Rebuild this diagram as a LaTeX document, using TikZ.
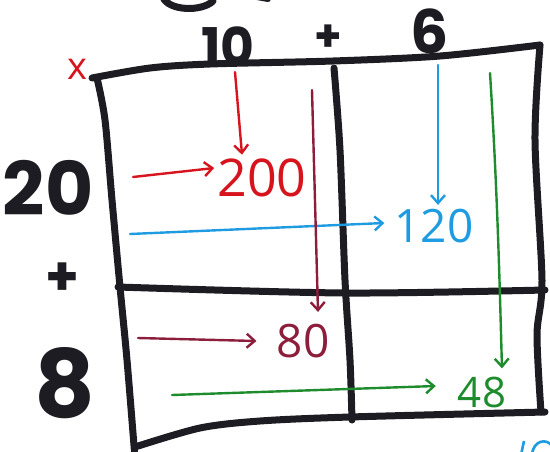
\documentclass[tikz,border=0pt]{standalone}
\usepackage{fontspec}
\setmainfont{Open Sans}
\newfontfamily\blkfont{Poppins}
\usetikzlibrary{arrows.meta}
\definecolor{mred}{HTML}{D7141E}
\definecolor{mblue}{HTML}{1E9BE1}
\definecolor{mdred}{HTML}{8C1E3C}
\definecolor{mgreen}{HTML}{1E8C2D}
\definecolor{ink}{HTML}{1C1C22}
\tikzset{
  gridline/.style={ink, line width=7pt, line cap=round, line join=round},
  colarrow/.style={line width=2.4pt, line cap=round, -{Straight Barb[length=8pt,width=14pt,line width=2.4pt]}},
  prod/.style={inner sep=0pt, font=\fontsize{52}{52}\selectfont},
  factor/.style={ink, inner sep=0pt, font=\blkfont\bfseries\fontsize{52}{52}\selectfont},
}
\begin{document}
\begin{tikzpicture}[x=1pt,y=-1pt]
\useasboundingbox (0,0) rectangle (550,451);
\clip (0,0) rectangle (550,451);
% partial text at top and bottom (cut off)
\draw[ink, line width=7pt, line cap=round] (163,-3) .. controls (168,11) and (202,12) .. (213,1);
\draw[ink, line width=6pt, line cap=round] (257,-3) -- (268,-1);
\draw[mblue, line width=2.6pt] (521,455) -- (524,441);
\draw[mblue, line width=2.6pt] (532,455) .. controls (533,440) and (547,438) .. (552,446);
% grid
\draw[gridline] plot[smooth] coordinates {(92,78) (150,68) (210,64) (333,61) (440,56) (540,45)};
\draw[gridline] plot[smooth] coordinates {(97,78) (105,120) (112,200) (120,287) (127,360) (135,458)};
\draw[gridline] plot[smooth] coordinates {(540,45) (535,140) (542,280) (537,335) (541,412)};
\draw[gridline] plot[smooth] coordinates {(334,68) (340,150) (345,280) (350,360) (352,420)};
\draw[gridline] plot[smooth] coordinates {(118,287) (345,293) (545,290)};
\draw[gridline] plot[smooth] coordinates {(135,447) (200,428) (260,421) (350,417) (545,412)};
% factors
\node[factor] (t10) at (228,46) {10};
\node[factor, font=\blkfont\bfseries\fontsize{44}{44}\selectfont] (tplus) at (328,38) {+};
\node[factor, font=\blkfont\bfseries\fontsize{60}{60}\selectfont] (t6) at (430,31) {6};
\node[factor, font=\blkfont\bfseries\fontsize{74}{74}\selectfont] (l20) at (48,188) {20};
\node[factor, font=\blkfont\bfseries\fontsize{54}{54}\selectfont] (lplus) at (62,279) {+};
\node[factor, font=\blkfont\bfseries\fontsize{94}{94}\selectfont] (l8) at (65,383) {8};
\node[mred, inner sep=0pt, font=\fontsize{38}{38}\selectfont] (mx) at (77,69) {x};
% products
\node[prod, mred] (p200) at (262,178) {200};
\node[prod, mblue, font=\fontsize{46}{46}\selectfont] (p120) at (434,226) {120};
\node[prod, mdred, font=\fontsize{46}{46}\selectfont] (p80) at (303,341) {80};
\node[prod, mgreen, font=\fontsize{42}{42}\selectfont] (p48) at (482,392) {48};
% arrow starts
\coordinate (rv) at (235,72);
\coordinate (rh) at (133,177);
\coordinate (bv) at (438,65);
\coordinate (bh) at (130,234);
\coordinate (dv) at (312,90);
\coordinate (dh) at (138,338);
\coordinate (gv) at (490,73);
\coordinate (gh) at (172,395);
% arrows
\draw[colarrow, mred] (rv) -- ([xshift=-20pt,yshift=4pt]p200.north);
\draw[colarrow, mred] (rh) -- ([xshift=-3pt,yshift=10pt]p200.west);
\draw[colarrow, mblue] (bv) -- ([xshift=4pt,yshift=4pt]p120.north);
\draw[colarrow, mblue] (bh) -- ([xshift=-10pt,yshift=3pt]p120.west);
\draw[colarrow, mdred] (dv) -- ([xshift=15pt,yshift=12pt]p80.north);
\draw[colarrow, mdred] (dh) -- ([xshift=-20pt]p80.west);
\draw[colarrow, mgreen] (gv) .. controls (498,200) and (500,300) .. ([xshift=20pt,yshift=8pt]p48.north);
\draw[colarrow, mgreen] (gh) -- ([xshift=-22pt,yshift=6pt]p48.west);
\end{tikzpicture}
\end{document}
